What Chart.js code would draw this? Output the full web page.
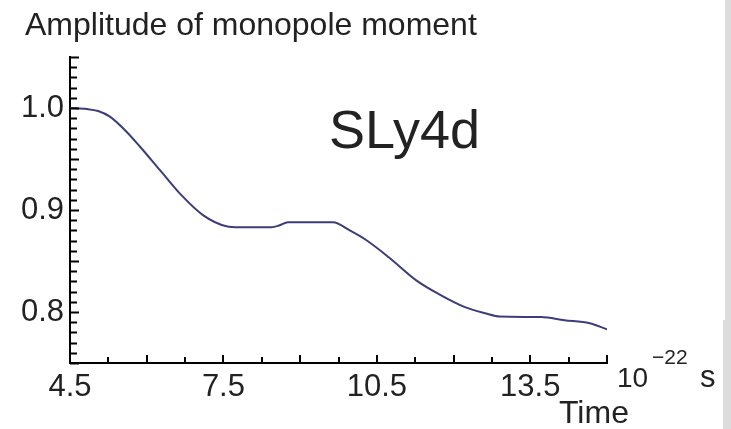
<!DOCTYPE html>
<html>
<head>
<meta charset="utf-8">
<script src="https://cdn.jsdelivr.net/npm/chart.js@4/dist/chart.umd.min.js"></script>
<style>
    body { margin: 0; background: #fff; }
    .plot-wrapper { position: relative; width: 731px; height: 429px; overflow: hidden; }
    .side-strip { position: absolute; background: #dcdcdc; }
</style>
</head>
<body>
<div class="plot-wrapper">
    <canvas id="monopole-chart" width="731" height="429"></canvas>
    <div class="side-strip" style="left:725px; top:0; width:6px; height:320px;"></div>
    <div class="side-strip" style="left:723px; top:320px; width:8px; height:109px;"></div>
</div>

<script>(function() { "use strict";

    // time in units of 10^-22 s
    var time_values = [4.5, 4.83, 5.05, 5.28, 5.6, 5.87, 6.26, 6.65, 7.1, 7.56, 7.8, 8.44, 8.6, 8.76,
        9.2, 9.64, 9.97, 10.29, 10.75, 11.27, 11.73, 12.21, 12.64, 12.9, 13.71, 14.17, 14.66, 15.0];
    var amplitude_values = [1.0, 0.999, 0.997, 0.9915, 0.977, 0.962, 0.939, 0.916, 0.895, 0.884, 0.883, 0.883, 0.885, 0.888,
        0.888, 0.888, 0.880, 0.8706, 0.853, 0.831, 0.817, 0.805, 0.7985, 0.7955, 0.795, 0.792, 0.789, 0.783];

    var x_tick_labels = [4.5, 7.5, 10.5, 13.5];
    var y_tick_labels = [0.8, 0.9, 1.0];

    var font_family = '"Liberation Sans", Arial, sans-serif';
    var text_color = '#222';

    var points = time_values.map(function(t, i) {
        return { x: t, y: amplitude_values[i] };
    });

    function isNear(value, list) {
        return list.some(function(v) { return Math.abs(v - value) < 1e-6; });
    }

    // ticks in Mathematica style: drawn inward from the axes
    var inwardTicks = {
        id: 'inwardTicks',
        afterDraw: function(chart) {
            var ctx = chart.ctx,
                area = chart.chartArea,
                xs = chart.scales.x,
                ys = chart.scales.y;
            ctx.save();
            ctx.strokeStyle = '#000';
            ctx.lineWidth = 2;
            ctx.beginPath();
            xs.ticks.forEach(function(t) {
                var px = Math.round(xs.getPixelForValue(t.value)),
                    k = (t.value - 4.5) / 1.5,
                    len = Math.abs(k - Math.round(k)) < 1e-6 ? 8 : 6;
                ctx.moveTo(px, area.bottom);
                ctx.lineTo(px, area.bottom - len);
            });
            ys.ticks.forEach(function(t) {
                var py = Math.round(ys.getPixelForValue(t.value)) + 0.5,
                    k = t.value * 20,
                    len = Math.abs(k - Math.round(k)) < 1e-6 ? 9 : 7;
                ctx.moveTo(area.left, py);
                ctx.lineTo(area.left + len, py);
            });
            ctx.stroke();

            ctx.fillStyle = text_color;
            ctx.textBaseline = 'alphabetic';
            ctx.textAlign = 'left';
            ctx.font = '32px ' + font_family;
            ctx.fillText('Amplitude of monopole moment', 25, 35);
            ctx.font = '54px ' + font_family;
            ctx.fillText('SLy4d', 329, 148);
            ctx.font = '32px ' + font_family;
            ctx.fillText('Time', 559, 423);
            ctx.font = '28px ' + font_family;
            ctx.fillText('10', 617, 387);
            ctx.font = '21px ' + font_family;
            ctx.fillText('\u221222', 652, 364);
            ctx.font = '31px ' + font_family;
            ctx.fillText('s', 700, 387);
            ctx.restore();
        }
    };

    new Chart(document.getElementById('monopole-chart'), {
        type: 'line',
        data: {
            datasets: [{
                data: points,
                borderColor: '#3b3e78',
                borderWidth: 2,
                pointRadius: 0,
                cubicInterpolationMode: 'monotone',
                fill: false
            }]
        },
        options: {
            responsive: false,
            animation: false,
            devicePixelRatio: 1,
            layout: { padding: { top: 57, right: 124, left: 0, bottom: 0 } },
            plugins: {
                legend: { display: false },
                tooltip: { enabled: false }
            },
            scales: {
                x: {
                    type: 'linear',
                    min: 4.5,
                    max: 15.0,
                    grid: { display: false, drawTicks: false, tickLength: 0 },
                    border: { display: true, color: '#000', width: 2 },
                    ticks: {
                        stepSize: 0.75,
                        autoSkip: false,
                        maxRotation: 0,
                        padding: 6,
                        color: text_color,
                        font: { family: font_family, size: 31 },
                        callback: function(value) {
                            return isNear(value, x_tick_labels) ? value.toFixed(1) : '';
                        }
                    },
                    afterFit: function(scale) { scale.height = 66; }
                },
                y: {
                    min: 0.75,
                    max: 1.05,
                    grid: { display: false, drawTicks: false, tickLength: 0 },
                    border: { display: true, color: '#000', width: 2 },
                    ticks: {
                        stepSize: 0.01,
                        autoSkip: false,
                        padding: 6,
                        color: text_color,
                        font: { family: font_family, size: 31 },
                        callback: function(value) {
                            return isNear(value, y_tick_labels) ? value.toFixed(1) : '';
                        }
                    },
                    afterFit: function(scale) { scale.width = 70; }
                }
            }
        },
        plugins: [inwardTicks]
    });

})();</script>
</body>
</html>
